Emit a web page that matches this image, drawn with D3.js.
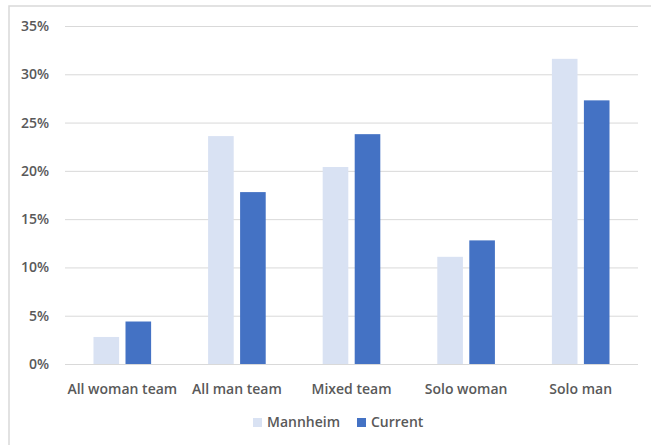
<!DOCTYPE html>
<html>
<head>
<meta charset="utf-8">
<script src="https://cdn.jsdelivr.net/npm/d3@7"></script>
<style>
  html, body { margin: 0; padding: 0; background: #fff; }
  svg { display: block; }
  text { font-family: "Open Sans", "Liberation Sans", sans-serif; font-weight: 600; fill: #595959; }
</style>
</head>
<body>
<svg id="chart" width="651" height="445"></svg>
<script>
const categories = ["All woman team", "All man team", "Mixed team", "Solo woman", "Solo man"];
const seriesNames = ["Mannheim", "Current"];
const mannheim = [2.8, 23.6, 20.4, 11.1, 31.6];
const current = [4.4, 17.8, 23.8, 12.8, 27.3];
const yTicks = [0, 5, 10, 15, 20, 25, 30, 35];
const colors = ["#D9E2F3", "#4472C4"];

const svg = d3.select("#chart");
const W = 651, H = 445;
const plot = { left: 65, right: 638, top: 26, bottom: 364 };

// outer frame
svg.append("rect").attr("x", 0).attr("y", 0).attr("width", W).attr("height", H).attr("fill", "#fff");
svg.append("path").attr("d", `M9,${H} V6 H${W}`).attr("fill", "none").attr("stroke", "#D9D9D9").attr("stroke-width", 1.5);

const x = d3.scaleBand().domain(categories).range([plot.left, plot.right]).paddingInner(0).paddingOuter(0);
const xs = d3.scaleBand().domain(seriesNames).range([0, x.bandwidth()]).paddingInner(0.2).paddingOuter(0.89);
const y = d3.scaleLinear().domain([0, 35]).range([plot.bottom, plot.top]);

// gridlines
const yAxis = d3.axisLeft(y).tickValues(yTicks).tickFormat(d => d + "%").tickSize(-(plot.right - plot.left)).tickPadding(16);
const gy = svg.append("g").attr("transform", `translate(${plot.left},0)`).call(yAxis);
gy.select(".domain").remove();
gy.selectAll(".tick line").attr("stroke", "#D9D9D9").attr("stroke-width", 1);
gy.selectAll(".tick text").attr("font-size", 14).attr("fill", "#595959").style("font-family", "'Open Sans', sans-serif").style("font-weight", 600);

const data = categories.map((c, i) => ({ cat: c, vals: [mannheim[i], current[i]] }));
const groups = svg.append("g").selectAll("g").data(data).join("g")
  .attr("transform", d => `translate(${x(d.cat)},0)`);
groups.selectAll("rect").data(d => d.vals.map((v, j) => ({ s: seriesNames[j], v, j })))
  .join("rect")
  .attr("x", d => xs(d.s))
  .attr("width", xs.bandwidth())
  .attr("y", d => y(d.v))
  .attr("height", d => y(0) - y(d.v))
  .attr("fill", d => colors[d.j]);

// baseline
svg.append("line").attr("x1", plot.left).attr("x2", plot.right).attr("y1", y(0) + 0.5).attr("y2", y(0) + 0.5).attr("stroke", "#D9D9D9");

// x axis labels
const xAxis = d3.axisBottom(x).tickSize(0).tickPadding(20);
const gx = svg.append("g").attr("transform", `translate(0,${plot.bottom})`).call(xAxis);
gx.select(".domain").remove();
gx.selectAll(".tick text").attr("font-size", 14).attr("fill", "#595959").style("font-family", "'Open Sans', sans-serif").style("font-weight", 600);

// legend
const legend = svg.append("g").attr("transform", "translate(253,422)");
const items = [{ name: "Mannheim", x: 0 }, { name: "Current", x: 104 }];
items.forEach((it, i) => {
  legend.append("rect").attr("x", it.x).attr("y", -4).attr("width", 9).attr("height", 9).attr("fill", colors[i]);
  legend.append("text").attr("x", it.x + 14).attr("y", 0).attr("dy", "0.35em").attr("font-size", 14).text(it.name);
});
</script>
</body>
</html>
